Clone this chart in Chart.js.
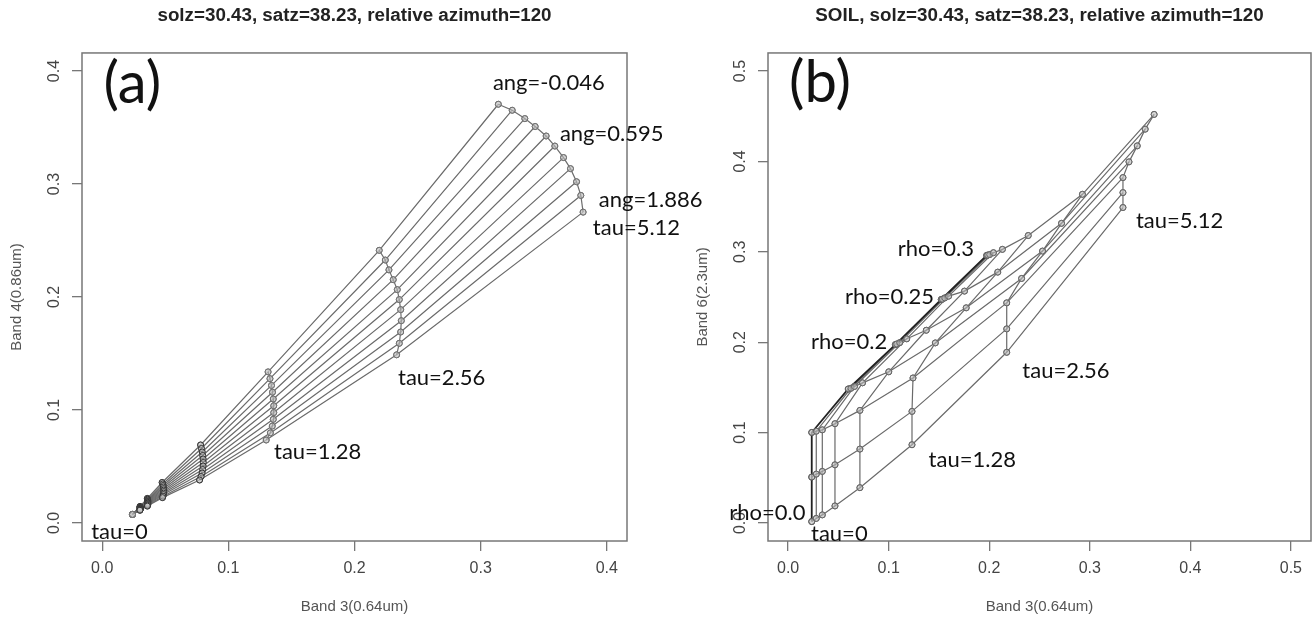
<!DOCTYPE html>
<html>
<head>
<meta charset="utf-8">
<title>LUT plots</title>
<script src="https://cdn.jsdelivr.net/npm/chart.js@4.4.1/dist/chart.umd.min.js"></script>
<style>
  html, body { margin: 0; padding: 0; background: #fff; }
  body { width: 1316px; height: 623px; position: relative; overflow: hidden; }
  .panel { position: absolute; top: 0; }
  #wrapA { left: 0; z-index: 1; }
  #wrapB { left: 686px; z-index: 2; }
</style>
</head>
<body>
<div class="panel" id="wrapA"><canvas id="chartA" width="720" height="623"></canvas></div>
<div class="panel" id="wrapB"><canvas id="chartB" width="630" height="623"></canvas></div>
<script>
// ---- data ----
const tauSteps = [0, 0.08, 0.16, 0.32, 0.64, 1.28, 2.56, 5.12];
const rhoSteps = [0, 0.05, 0.1, 0.15, 0.2, 0.25, 0.3];

const ticksA = [0, 0.1, 0.2, 0.3, 0.4];
const ticksB = [0, 0.1, 0.2, 0.3, 0.4, 0.5];

// panel (a): one row per tau, 11 angstrom values per row (top line first)
const vegBand3 = [
  [0.0240, 0.0240, 0.0240, 0.0240, 0.0240, 0.0240, 0.0240, 0.0240, 0.0240, 0.0240, 0.0240],
  [0.0300, 0.0300, 0.0301, 0.0301, 0.0301, 0.0301, 0.0301, 0.0301, 0.0300, 0.0300, 0.0299],
  [0.0358, 0.0360, 0.0361, 0.0362, 0.0362, 0.0362, 0.0362, 0.0362, 0.0361, 0.0360, 0.0358],
  [0.0475, 0.0480, 0.0483, 0.0485, 0.0487, 0.0488, 0.0488, 0.0487, 0.0485, 0.0482, 0.0478],
  [0.0780, 0.0787, 0.0793, 0.0797, 0.0800, 0.0801, 0.0800, 0.0797, 0.0792, 0.0784, 0.0772],
  [0.1315, 0.1330, 0.1342, 0.1350, 0.1356, 0.1360, 0.1360, 0.1356, 0.1348, 0.1333, 0.1300],
  [0.2196, 0.2244, 0.2273, 0.2307, 0.2339, 0.2355, 0.2366, 0.2371, 0.2366, 0.2355, 0.2334],
  [0.3140, 0.3250, 0.3350, 0.3432, 0.3519, 0.3588, 0.3657, 0.3712, 0.3760, 0.3794, 0.3812]
];
const vegBand4 = [
  [0.0075, 0.0075, 0.0075, 0.0075, 0.0075, 0.0075, 0.0075, 0.0075, 0.0075, 0.0075, 0.0075],
  [0.0146, 0.0142, 0.0139, 0.0136, 0.0132, 0.0129, 0.0126, 0.0122, 0.0119, 0.0116, 0.0112],
  [0.0217, 0.0210, 0.0203, 0.0196, 0.0190, 0.0183, 0.0176, 0.0170, 0.0163, 0.0156, 0.0149],
  [0.0358, 0.0345, 0.0331, 0.0318, 0.0304, 0.0291, 0.0278, 0.0264, 0.0251, 0.0237, 0.0224],
  [0.0690, 0.0659, 0.0628, 0.0597, 0.0566, 0.0535, 0.0504, 0.0473, 0.0442, 0.0411, 0.0380],
  [0.1337, 0.1277, 0.1217, 0.1157, 0.1097, 0.1037, 0.0977, 0.0917, 0.0857, 0.0797, 0.0734],
  [0.2413, 0.2327, 0.2240, 0.2153, 0.2065, 0.1977, 0.1888, 0.1790, 0.1690, 0.1590, 0.1488],
  [0.3706, 0.3653, 0.3579, 0.3509, 0.3425, 0.3336, 0.3234, 0.3136, 0.3020, 0.2899, 0.2751]
];

// panel (b): one row per surface rho, 8 tau values per row
const soilBand3 = [
  [0.0235, 0.0280, 0.0340, 0.0466, 0.0714, 0.1232, 0.2174, 0.3330],
  [0.0235, 0.0280, 0.0340, 0.0466, 0.0714, 0.1232, 0.2174, 0.3330],
  [0.0235, 0.0280, 0.0340, 0.0466, 0.0714, 0.1242, 0.2174, 0.3330],
  [0.0598, 0.0625, 0.0660, 0.0740, 0.1001, 0.1464, 0.2322, 0.3390],
  [0.1067, 0.1080, 0.1110, 0.1180, 0.1374, 0.1771, 0.2530, 0.3472],
  [0.1523, 0.1535, 0.1558, 0.1596, 0.1754, 0.2085, 0.2719, 0.3551],
  [0.1975, 0.1985, 0.2005, 0.2042, 0.2131, 0.2388, 0.2927, 0.3640]
];
const soilBand6 = [
  [0.0015, 0.0050, 0.0089, 0.0188, 0.0390, 0.0865, 0.1888, 0.3490],
  [0.0507, 0.0540, 0.0570, 0.0643, 0.0817, 0.1234, 0.2147, 0.3655],
  [0.1001, 0.1015, 0.1030, 0.1098, 0.1245, 0.1604, 0.2435, 0.3821],
  [0.1482, 0.1490, 0.1510, 0.1550, 0.1672, 0.1992, 0.2705, 0.3995],
  [0.1973, 0.1980, 0.1995, 0.2037, 0.2132, 0.2380, 0.3008, 0.4172],
  [0.2472, 0.2476, 0.2490, 0.2509, 0.2565, 0.2775, 0.3315, 0.4357],
  [0.2960, 0.2963, 0.2970, 0.2990, 0.3027, 0.3180, 0.3636, 0.4520]
];

// ---- helpers ----
const FONT = '"Liberation Sans", Arial, sans-serif';

function lineSet(points, color, width, ptColor) {
  return {
    data: points,
    showLine: true,
    borderColor: color,
    borderWidth: width,
    pointRadius: 3,
    pointBorderWidth: 1,
    pointBorderColor: ptColor,
    pointBackgroundColor: 'rgba(200,200,200,0.5)',
    tension: 0
  };
}

// frame, rotated y tick labels (R style) and the hand-placed notes
const rPanel = {
  id: 'rPanel',
  afterDraw(chart, args, opts) {
    const { ctx, chartArea: a, scales: { x, y } } = chart;
    ctx.save();
    ctx.strokeStyle = '#777';
    ctx.lineWidth = 1.5;
    ctx.strokeRect(a.left, a.top, a.right - a.left, a.bottom - a.top);

    ctx.fillStyle = '#444';
    ctx.font = '16px ' + FONT;
    ctx.textAlign = 'center';
    ctx.textBaseline = 'middle';
    y.ticks.forEach(t => {
      ctx.save();
      ctx.translate(a.left - 27, y.getPixelForValue(t.value));
      ctx.rotate(-Math.PI / 2);
      ctx.fillText(t.value.toFixed(1), 0, 0);
      ctx.restore();
    });

    ctx.fillStyle = '#111';
    ctx.textAlign = 'left';
    opts.notes.forEach(n => {
      ctx.font = (n.size || 22) + 'px Lato, "Open Sans", sans-serif';
      ctx.fillText(n.text, x.getPixelForValue(n.x), y.getPixelForValue(n.y));
    });
    ctx.restore();
  }
};

function makeOptions(title, yTitle, lim, ticks, notes, padRight) {
  const grid = { drawOnChartArea: false, drawTicks: true, tickLength: 10, color: '#777', lineWidth: 1.3 };
  return {
    responsive: false,
    animation: false,
    layout: { padding: { top: 0, left: 0, right: padRight, bottom: 0 } },
    plugins: {
      legend: { display: false },
      tooltip: { enabled: false },
      title: {
        display: true, text: title, fullSize: false, color: '#222',
        font: { family: FONT, size: 18.8, weight: 'bold' },
        padding: { top: 4.5, bottom: 25.9 }
      },
      rPanel: { notes: notes }
    },
    scales: {
      x: {
        type: 'linear', min: lim[0], max: lim[1],
        afterBuildTicks: s => { s.ticks = ticks.map(v => ({ value: v })); },
        afterFit: s => { s.height = 82; },
        grid: grid,
        border: { display: false },
        ticks: { font: { family: FONT, size: 16 }, color: '#444', padding: 8, maxRotation: 0, autoSkip: false,
                 callback: v => v.toFixed(1) },
        title: { display: true, text: 'Band 3(0.64um)', color: '#555', font: { family: FONT, size: 15 },
                 padding: { top: 0, bottom: 7 } }
      },
      y: {
        type: 'linear', min: lim[0], max: lim[1],
        afterBuildTicks: s => { s.ticks = ticks.map(v => ({ value: v })); },
        afterFit: s => { s.width = 82; },
        grid: grid,
        border: { display: false },
        ticks: { display: false },
        title: { display: true, text: yTitle, color: '#555', font: { family: FONT, size: 15 },
                 padding: { top: 8, bottom: 0 } }
      }
    }
  };
}

// ---- panel (a) ----
const dsA = [];
for (let k = 1; k < tauSteps.length; k++) {
  const pts = vegBand3[k].map((v, i) => ({ x: v, y: vegBand4[k][i] }));
  dsA.push(lineSet(pts, '#6e6e6e', 1.2, k <= 4 ? '#333' : '#707070'));
}
for (let i = 0; i < vegBand3[0].length; i++) {
  const pts = tauSteps.map((t, k) => ({ x: vegBand3[k][i], y: vegBand4[k][i] }));
  dsA.push(lineSet(pts, '#6a6a6a', 1.2, '#707070'));
}

const notesA = [
  { text: '(a)', x: 0.0010, y: 0.388, size: 58 },
  { text: 'ang=-0.046', x: 0.3097, y: 0.3892 },
  { text: 'ang=0.595', x: 0.3628, y: 0.3440 },
  { text: 'ang=1.886', x: 0.3937, y: 0.2862 },
  { text: 'tau=5.12', x: 0.3889, y: 0.2612 },
  { text: 'tau=2.56', x: 0.2345, y: 0.1284 },
  { text: 'tau=1.28', x: 0.1362, y: 0.0627 },
  { text: 'tau=0', x: -0.0087, y: -0.0083 }
];

new Chart(document.getElementById('chartA'), {
  type: 'scatter',
  data: { datasets: dsA },
  options: makeOptions('solz=30.43, satz=38.23, relative azimuth=120', 'Band 4(0.86um)',
                       [-0.016, 0.416], ticksA, notesA, 93),
  plugins: [rPanel]
});

// ---- panel (b) ----
const dsB = [];
for (let r = 0; r < rhoSteps.length; r++) {
  const pts = soilBand3[r].map((v, k) => ({ x: v, y: soilBand6[r][k] }));
  dsB.push(lineSet(pts, '#6a6a6a', 1.2, '#666'));
}
for (let k = 0; k < tauSteps.length; k++) {
  const pts = rhoSteps.map((rho, r) => ({ x: soilBand3[r][k], y: soilBand6[r][k] }));
  const dark = k === 0;
  dsB.push(lineSet(pts, dark ? '#222' : '#6a6a6a', dark ? 1.8 : 1.2, dark ? '#222' : '#666'));
}

const notesB = [
  { text: '(b)', x: 0.001, y: 0.486, size: 58 },
  { text: 'rho=0.3', x: 0.109, y: 0.3027 },
  { text: 'rho=0.25', x: 0.0565, y: 0.2506 },
  { text: 'rho=0.2', x: 0.0228, y: 0.2007 },
  { text: 'tau=5.12', x: 0.3459, y: 0.3337 },
  { text: 'tau=2.56', x: 0.2329, y: 0.1685 },
  { text: 'tau=1.28', x: 0.1397, y: 0.0698 },
  { text: 'rho=0.0', x: -0.0585, y: 0.0111 },
  { text: 'tau=0', x: 0.0228, y: -0.0122 }
];

new Chart(document.getElementById('chartB'), {
  type: 'scatter',
  data: { datasets: dsB },
  options: makeOptions('SOIL, solz=30.43, satz=38.23, relative azimuth=120', 'Band 6(2.3um)',
                       [-0.02, 0.52], ticksB, notesB, 4),
  plugins: [rPanel]
});
</script>
</body>
</html>
